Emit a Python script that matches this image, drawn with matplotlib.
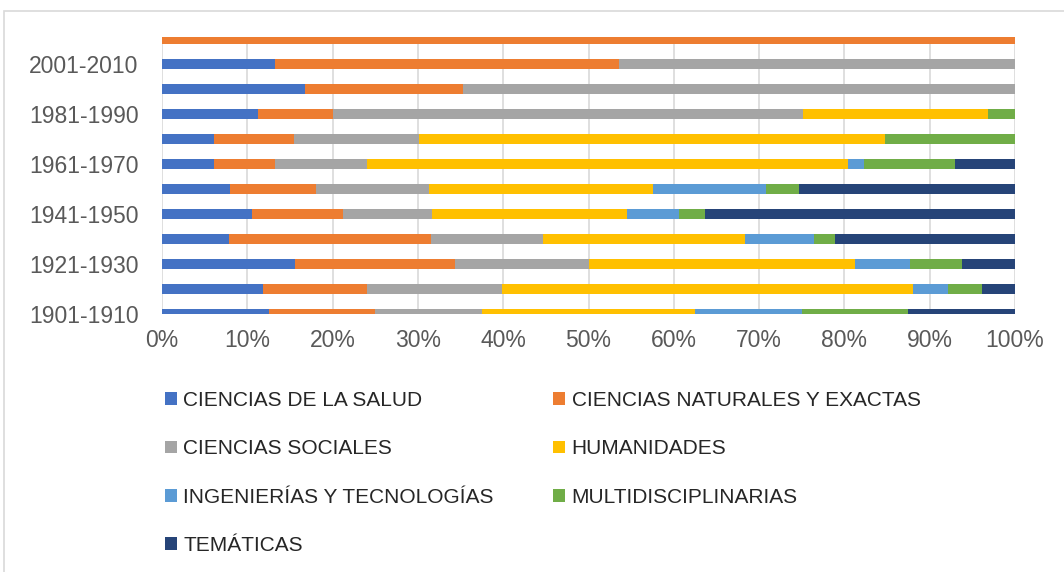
import matplotlib
matplotlib.use('Agg')
import matplotlib.pyplot as plt
from matplotlib.patches import Patch, Rectangle
import numpy as np

# decades, bottom to top
DECADES = ['1901-1910', '1911-1920', '1921-1930', '1931-1940', '1941-1950', '1951-1960',
           '1961-1970', '1971-1980', '1981-1990', '1991-2000', '2001-2010', '2011-2020']

SALUD = [12.5, 11.8, 15.6, 7.8, 10.6, 8.0, 6.1, 6.1, 11.3, 16.8, 13.2, 0]
NATURALES = [12.5, 12.2, 18.7, 23.7, 10.6, 10.1, 7.1, 9.4, 8.7, 18.5, 40.4, 100]
SOCIALES = [12.5, 15.9, 15.8, 13.2, 10.5, 13.2, 10.8, 14.6, 55.2, 64.7, 46.4, 0]
HUMANIDADES = [25.0, 48.2, 31.2, 23.7, 22.8, 26.3, 56.4, 54.7, 21.6, 0, 0, 0]
INGENIERIAS = [12.5, 4.0, 6.4, 8.0, 6.1, 13.2, 1.9, 0, 0, 0, 0, 0]
MULTI = [12.5, 4.0, 6.1, 2.5, 3.1, 3.9, 10.7, 15.2, 3.2, 0, 0, 0]
TEMATICAS = [12.5, 3.9, 6.2, 21.1, 36.3, 25.3, 7.0, 0, 0, 0, 0, 0]

SERIES = [
    ('CIENCIAS DE LA SALUD', SALUD, '#4472C4'),
    ('CIENCIAS NATURALES Y EXACTAS', NATURALES, '#ED7D31'),
    ('CIENCIAS SOCIALES', SOCIALES, '#A5A5A5'),
    ('HUMANIDADES', HUMANIDADES, '#FFC000'),
    ('INGENIERÍAS Y TECNOLOGÍAS', INGENIERIAS, '#5B9BD5'),
    ('MULTIDISCIPLINARIAS', MULTI, '#70AD47'),
    ('TEMÁTICAS', TEMATICAS, '#264478'),
]

plt.rcParams['font.family'] = ['Liberation Sans', 'DejaVu Sans']

W, H = 1064, 572
fig = plt.figure(figsize=(W / 100, H / 100), dpi=100)

# chart border (extends past the image on right/bottom)
fig.patches.append(Rectangle((4 / W, -0.05), 1.2, 1 - 11 / H + 0.05, transform=fig.transFigure,
                             fill=False, edgecolor='#D9D9D9', linewidth=1.2))

ax = fig.add_axes([162 / W, 1 - 314 / H, (1015 - 162) / W, (314 - 37) / H])

y = np.arange(len(DECADES))
left = np.zeros(len(DECADES))
handles = []
for name, vals, color in SERIES:
    vals = np.array(vals, dtype=float)
    ax.barh(y, vals, left=left, height=0.4, color=color, zorder=3)
    left += vals
    handles.append(Patch(facecolor=color, label=name))

ax.set_xlim(0, 100)
ax.set_ylim(-0.02, 11.08)
ax.set_xticks(np.arange(0, 101, 10))
ax.set_xticklabels([f'{v}%' for v in range(0, 101, 10)])
ax.set_yticks(y[::2])
ax.set_yticklabels(DECADES[::2])
ax.tick_params(axis='both', length=0, labelsize=16.5, colors='#595959')
ax.tick_params(axis='y', pad=17)
ax.tick_params(axis='x', pad=10.5)
ax.grid(axis='x', color='#D9D9D9', linewidth=1.2, zorder=0)
for s in ax.spines.values():
    s.set_visible(False)

# row-wise legend order in two columns
order = [0, 2, 4, 6, 1, 3, 5]
leg = fig.legend([handles[i] for i in order], [SERIES[i][0] for i in order],
                 loc='upper left', bbox_to_anchor=(165 / W, 1 - 391 / H), ncol=2,
                 frameon=False, fontsize=15, handlelength=0.58, handleheight=0.55,
                 handletextpad=0.3, labelspacing=1.41, columnspacing=2.85,
                 borderpad=0, borderaxespad=0)
for t in leg.get_texts():
    t.set_color('#262626')

fig.savefig('out.png', dpi=100)
